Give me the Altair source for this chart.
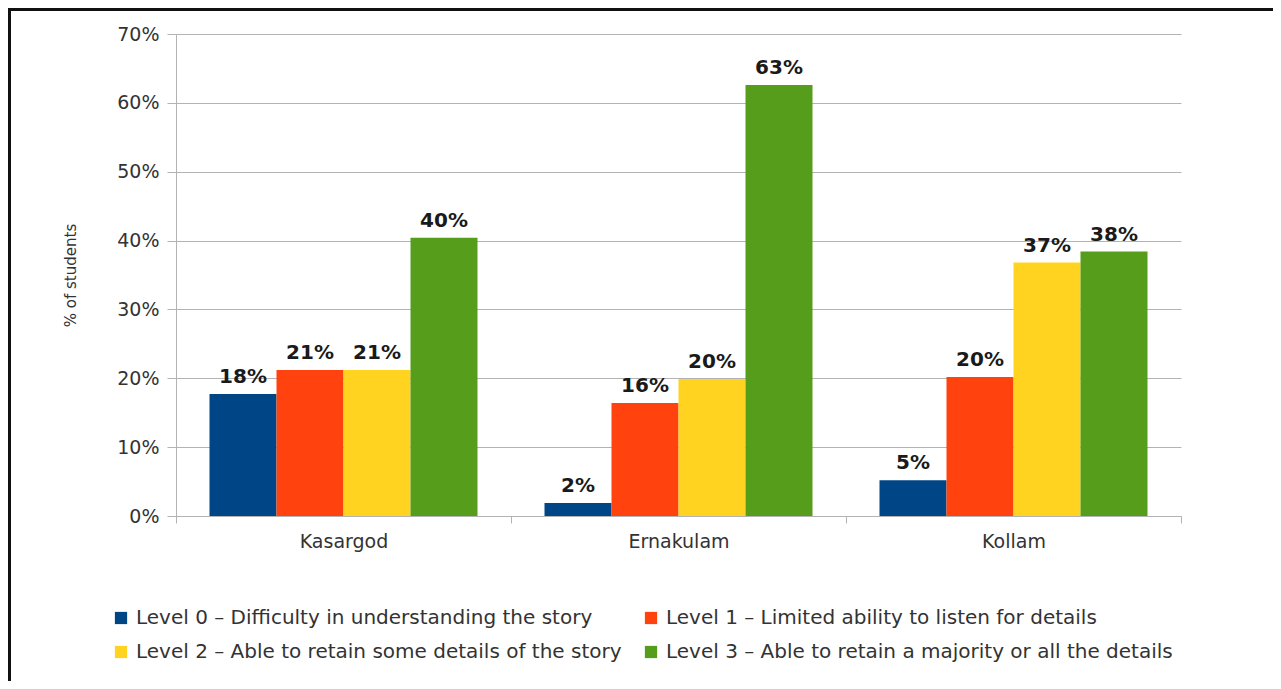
import altair as alt
import pandas as pd

districts = ["Kasargod", "Ernakulam", "Kollam"]
levels = [
    "Level 0 – Difficulty in understanding the story",
    "Level 1 – Limited ability to listen for details",
    "Level 2 – Able to retain some details of the story",
    "Level 3 – Able to retain a majority or all the details",
]
level0 = [0.177, 0.019, 0.052]
level1 = [0.212, 0.164, 0.202]
level2 = [0.212, 0.199, 0.368]
level3 = [0.404, 0.626, 0.384]
colors = ["#004586", "#ff420e", "#ffd320", "#579d1c"]
y_ticks = [0, 0.1, 0.2, 0.3, 0.4, 0.5, 0.6, 0.7]

rows = []
for lev, vals in zip(levels, [level0, level1, level2, level3]):
    for d, v in zip(districts, vals):
        rows.append({"district": d, "level": lev, "value": v})
df = pd.DataFrame(rows)

W, H = 1005, 482
FONT = "DejaVu Sans"
GRAY = "#b3b3b3"

x_enc = alt.X(
    "district:N",
    sort=districts,
    scale=alt.Scale(paddingInner=0, paddingOuter=0),
    axis=alt.Axis(
        title=None,
        tickBand="extent",
        tickSize=7,
        labelPadding=9,
        labelAngle=0,
        labelFont=FONT,
        labelFontSize=19,
        labelColor="#333333",
        domainColor=GRAY,
        tickColor=GRAY,
        grid=False,
    ),
)
xoff_enc = alt.XOffset(
    "level:N", sort=levels, scale=alt.Scale(paddingInner=0, paddingOuter=0.5)
)
y_enc = alt.Y(
    "value:Q",
    scale=alt.Scale(domain=[0, 0.7], nice=False),
    axis=alt.Axis(
        title="% of students",
        format=".0%",
        values=y_ticks,
        tickSize=9,
        labelPadding=8,
        titlePadding=38,
        labelFont=FONT,
        labelFontSize=19,
        labelColor="#333333",
        titleFont=FONT,
        titleFontSize=15,
        titleFontWeight="normal",
        titleColor="#333333",
        gridColor=GRAY,
        domainColor=GRAY,
        tickColor=GRAY,
    ),
)
color_enc = alt.Color(
    "level:N",
    sort=levels,
    scale=alt.Scale(domain=levels, range=colors),
    legend=alt.Legend(
        title=None,
        orient="none",
        direction="horizontal",
        legendX=-65,
        legendY=574,
        columns=2,
        symbolType="square",
        symbolSize=150,
        symbolStrokeWidth=0,
        labelFont=FONT,
        labelFontSize=20,
        labelColor="#333333",
        labelLimit=1000,
        labelOffset=5,
        columnPadding=19,
        rowPadding=14,
        padding=0,
    ),
)

base = alt.Chart(df)
bars = base.mark_bar(strokeWidth=0).encode(
    x=x_enc, xOffset=xoff_enc, y=y_enc, color=color_enc
)
labels = base.mark_text(
    baseline="alphabetic", dy=-11, fontWeight="bold", fontSize=20, font=FONT, color="#1a1a1a"
).encode(
    x=alt.X("district:N", sort=districts),
    xOffset=alt.XOffset("level:N", sort=levels),
    y=alt.Y("value:Q"),
    text=alt.Text("value:Q", format=".0%"),
)
frame = alt.Chart(pd.DataFrame({"f": [0]})).mark_rect(
    fillOpacity=0, stroke="#111111", strokeWidth=3
).encode(
    x=alt.value(-166.5), x2=alt.value(W + 95.5), y=alt.value(-24.5), y2=alt.value(H + 200)
)

chart = (
    alt.layer(bars, labels, frame)
    .properties(
        width=W,
        height=H,
        autosize=alt.AutoSizeParams(type="none"),
        padding={"left": 168, "top": 26, "right": 92, "bottom": 165},
    )
    .configure_view(stroke=None)
)

chart.save("out.html", embed_options={"renderer": "svg", "actions": False})
